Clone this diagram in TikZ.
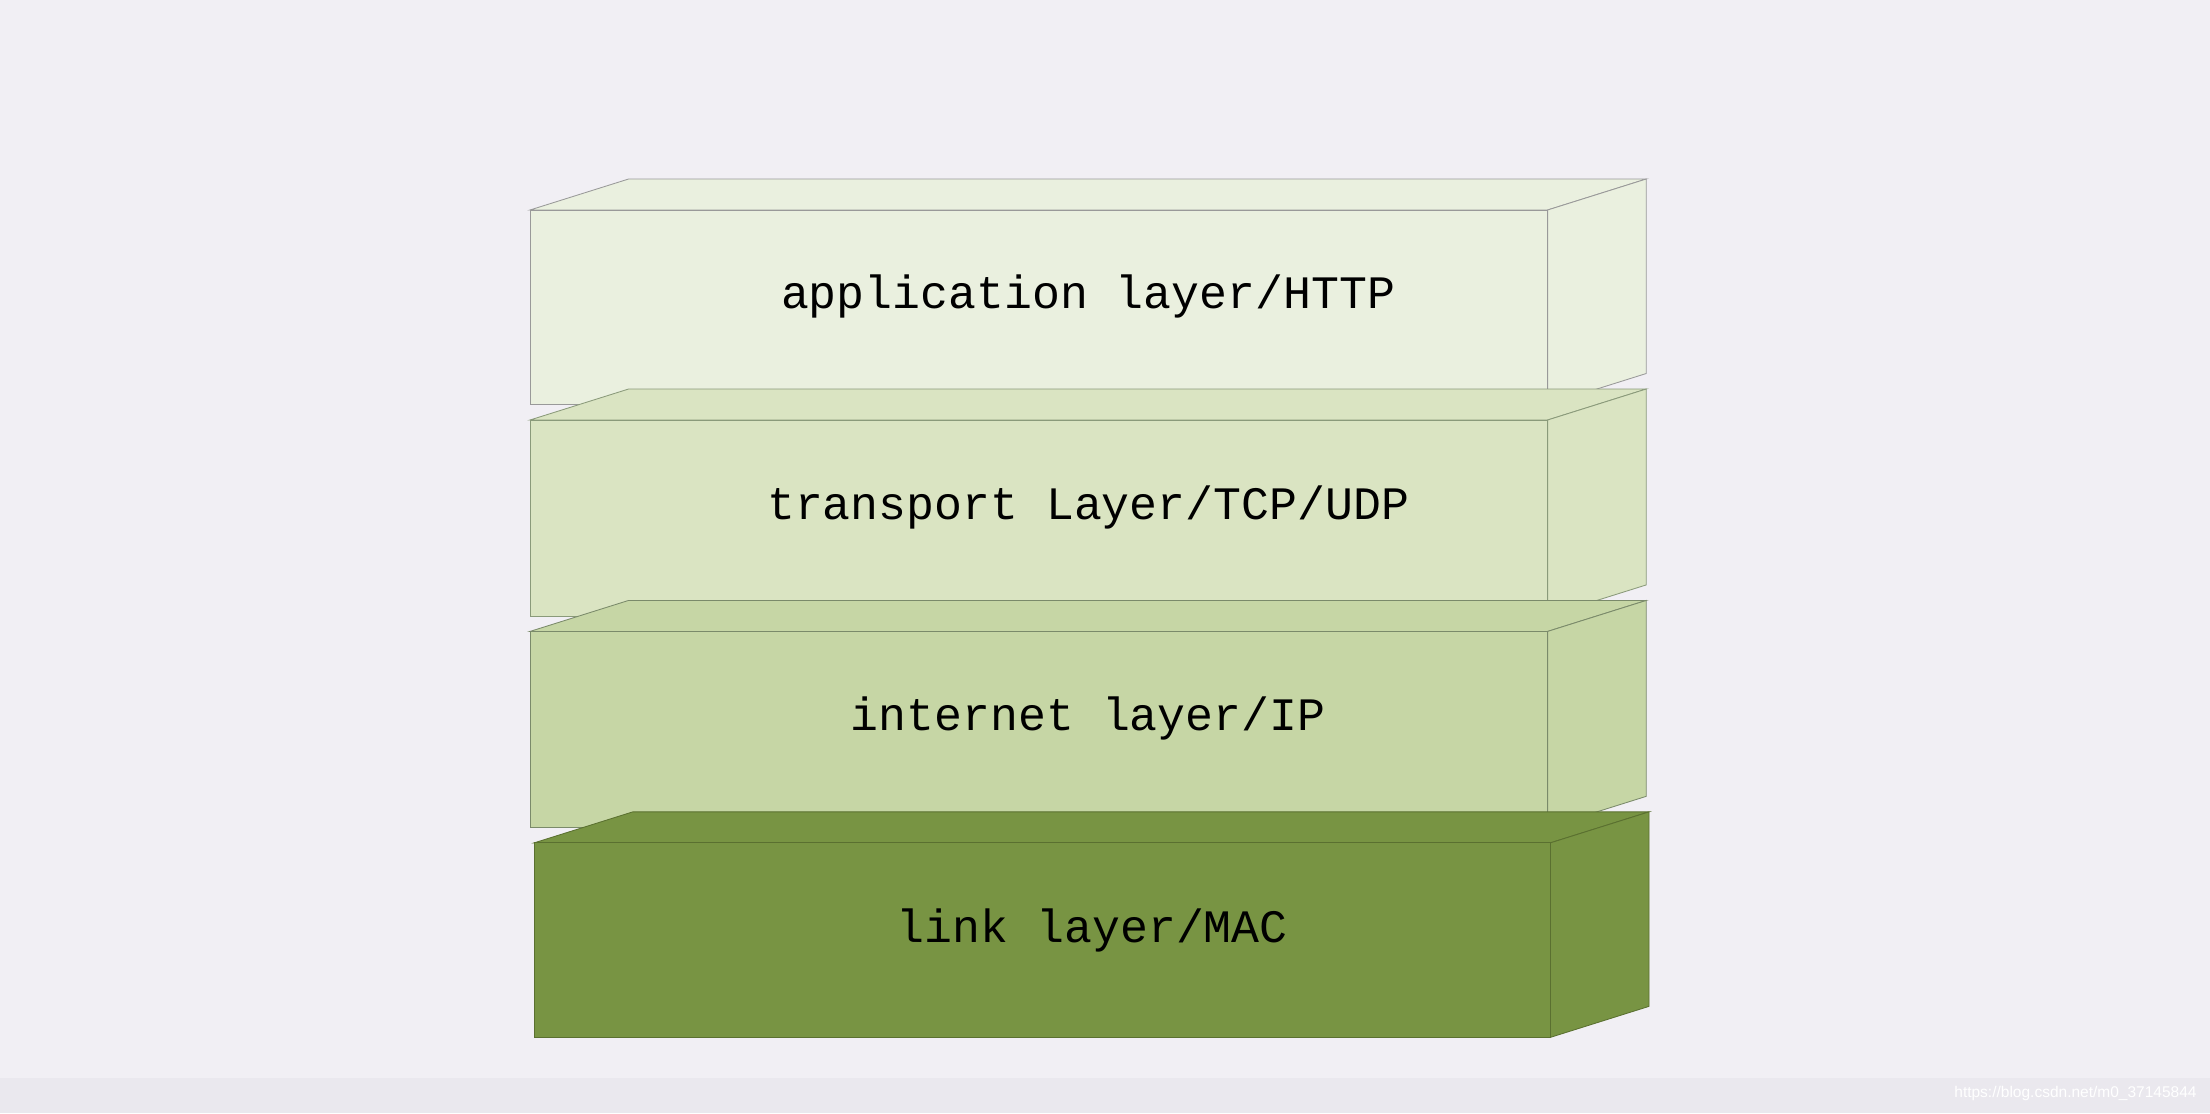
\documentclass[tikz,border=0pt]{standalone}
\usepackage{fontspec}
\newfontfamily\monof{Liberation Mono}
\newfontfamily\sansf{Liberation Sans}
\begin{document}
\begin{tikzpicture}[x=1pt,y=-1pt,
  edge/.style={draw=#1,line width=0.6pt},
  lbl/.style={font=\monof\fontsize{33}{33}\selectfont,text=black}]
\useasboundingbox (0,0) rectangle (1568,790);
\fill[fill={rgb,255:red,241;green,239;blue,244}] (0,0) rectangle (1568,790);
\fill[fill={rgb,255:red,234;green,232;blue,238}] (0,765) rectangle (1568,790);
% layer boxes: x0 x1 ytop ybot fill edge
\foreach \xa/\xb/\ya/\yb/\fc/\ec/\nm in {
 376/1098/149/287/EAF0DF/999999/a,
 376/1098/298/437/DAE4C2/8A9A7A/b,
 376/1098/448/587/C6D6A5/7A8A6A/c,
 379/1100/598/736/789443/5A7030/d}{
  \definecolor{fc}{HTML}{\fc}\definecolor{ec}{HTML}{\ec}
  \filldraw[fill=fc,edge=ec] (\xa,\ya) -- ++(70,-22) -- (\xb+70,\ya-22) -- (\xb,\ya) -- cycle;
  \filldraw[fill=fc,edge=ec] (\xb,\ya) -- (\xb+70,\ya-22) -- (\xb+70,\yb-22) -- (\xb,\yb) -- cycle;
  \filldraw[fill=fc,edge=ec] (\xa,\ya) rectangle (\xb,\yb);
  \coordinate (\nm) at ({(\xa+\xb)/2+35},{(\ya+\yb)/2-8});
}
\node[lbl] (ta) at (772,210) {application layer/HTTP};
\node[lbl] (tb) at (772,360) {transport Layer/TCP/UDP};
\node[lbl] (tc) at (772,510) {internet layer/IP};
\node[lbl] (td) at (775,660) {link layer/MAC};
\node[font=\sansf\fontsize{11}{11}\selectfont,text=white,anchor=east] (wm) at (1562,776) {https://blog.csdn.net/m0\_37145844};
\end{tikzpicture}
\end{document}
